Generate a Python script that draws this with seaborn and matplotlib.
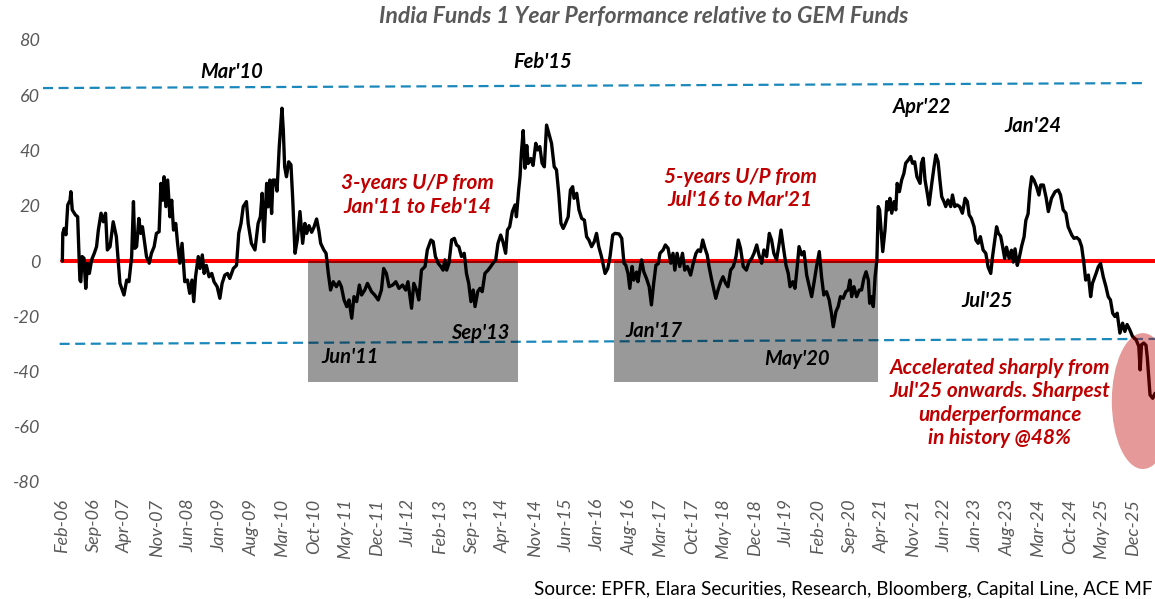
import matplotlib

matplotlib.use("Agg")
import matplotlib.dates as mdates
import matplotlib.pyplot as plt
import numpy as np
import pandas as pd
import seaborn as sns
from matplotlib.patches import Ellipse

START = pd.Timestamp("2006-02-01")

# months elapsed since Feb-06 and relative 1Y performance (%)
months_a = [0.0, 0.1, 0.4, 0.8, 1.2, 1.7, 1.9, 2.2, 2.9, 3.4, 3.9, 4.1, 4.4, 4.8, 5.2,
            5.6, 6.0, 6.5, 7.1, 7.6, 8.0, 8.6, 9.1, 9.6, 10.0, 10.6, 11.3, 12.0, 12.8, 13.7,
            14.3, 14.8, 15.4, 15.8, 16.1, 16.5, 17.0, 17.4, 17.8, 18.2, 18.7, 19.3, 19.8, 20.4, 20.9,
            21.5, 21.9, 22.3, 22.6, 23.0, 23.4, 23.9, 24.3, 24.7, 25.2, 25.6, 26.1, 26.6, 27.2, 27.8,
            28.3, 28.8, 29.2, 29.6, 30.2, 30.6, 31.1, 31.5, 32.0, 32.6, 33.2, 33.7, 34.4, 35.0, 35.5,
            36.1, 36.7, 37.2, 38.0, 38.7, 39.2, 39.7, 40.2]
values_a = [0.0, 10.0, 11.8, 9.5, 20.3, 22.0, 25.1, 18.5, 16.7, 16.0, -6.9, -7.5, 1.6, 1.0, -9.9,
            -0.8, -4.5, 0.4, 2.8, 5.2, 11.2, 17.3, 14.2, 17.3, 4.0, 5.2, 14.2, 8.8, -8.1, -12.3,
            -6.9, -7.5, 1.6, 21.5, 4.6, 5.2, 15.4, 10.0, 12.4, 7.6, 1.6, -0.8, 2.8, 5.2, 10.0,
            10.6, 28.1, 22.0, 30.5, 19.7, 29.3, 16.0, 22.0, 11.2, 13.6, 6.4, -0.8, 6.4, -7.5, -6.9,
            -11.7, -6.9, -14.7, -5.7, 1.6, -2.7, 2.2, -4.5, -1.6, -5.7, -4.5, -7.5, -9.3, -13.5, -8.1,
            -5.1, -4.5, -6.3, -2.7, -1.6, 10.0, 13.6, 19.7]

months_b = [40.9, 41.3, 42.0, 42.8, 43.5, 44.0, 44.4, 44.8, 45.4, 45.7, 46.1, 46.5, 46.8, 47.3, 47.7,
            48.2, 48.8, 49.1, 49.4, 49.8, 50.3, 50.8, 51.2, 51.7, 52.2, 52.8, 53.4, 53.9, 54.3, 54.8,
            55.4, 55.9, 56.5, 57.0, 57.4, 58.1, 58.6, 59.1, 59.6, 60.2, 60.9, 61.5, 62.0, 62.6, 63.2,
            63.7, 64.3, 64.8, 65.4, 66.0, 66.5, 67.2, 67.8, 68.7, 69.4, 70.2, 70.9, 71.4, 72.0, 72.6,
            73.4, 74.1, 74.8, 75.6, 76.3, 76.8, 77.6, 78.1, 78.7, 79.2, 79.8, 80.6]
values_b = [21.5, 13.6, 6.4, 4.0, 13.6, 16.0, 24.5, 7.0, 28.1, 19.6, 29.3, 17.2, 29.3, 29.3, 25.3,
            41.4, 55.3, 47.4, 34.1, 30.5, 35.9, 34.8, 22.1, 2.8, 7.6, 17.9, 6.4, 13.6, 10.0, 12.8,
            10.4, 12.2, 15.2, 11.0, 6.4, 4.0, 2.8, -4.5, -10.5, -7.5, -9.3, -7.5, -9.3, -14.1, -16.5,
            -14.1, -20.7, -12.9, -14.7, -8.7, -12.3, -10.5, -8.1, -11.1, -12.3, -14.1, -10.5, -2.7, -4.5, -9.3,
            -8.7, -7.5, -9.9, -8.7, -10.5, -7.5, -17.1, -8.1, -10.5, -14.1, -3.3, -2.0]

months_c = [81.1, 81.9, 82.4, 82.9, 83.5, 84.1, 84.6, 85.0, 85.4, 85.9, 86.5, 87.1, 87.6, 88.1, 88.7,
            89.3, 89.8, 90.3, 90.8, 91.3, 91.7, 92.3, 92.8, 93.3, 93.9, 94.6, 95.2, 95.7, 96.3, 96.8,
            97.4, 97.9, 98.5, 98.9, 99.4, 100.0, 100.6, 100.9, 101.4, 101.7, 102.0, 102.4, 102.8, 103.2, 103.5,
            104.1, 104.6, 105.2, 105.6, 106.1, 106.6, 107.1, 107.6, 108.1, 108.7, 109.3, 109.8, 110.3, 110.8, 111.3,
            111.8, 112.4, 112.9, 113.4, 113.7, 114.3, 114.8, 115.4, 116.0, 116.5, 117.0, 117.6, 118.2, 118.7, 119.2,
            119.8, 120.6, 121.2, 121.7, 122.3]
values_c = [4.0, 7.6, 7.0, 1.6, -0.8, -2.0, -3.3, 0.4, -3.3, -0.8, 7.6, 8.2, 5.8, 5.2, 1.6,
            2.8, -4.5, -8.1, -14.7, -10.5, -16.5, -11.1, -9.9, -11.1, -4.5, -3.3, -2.0, -0.8, 0.4, 6.4,
            9.4, 7.0, 2.8, 11.2, 12.4, 17.9, 20.3, 16.0, 25.7, 30.5, 39.0, 47.2, 33.6, 41.8, 35.3,
            37.1, 34.6, 42.6, 40.2, 41.4, 35.4, 34.1, 49.2, 46.2, 42.6, 34.1, 33.0, 24.5, 13.6, 11.8,
            13.6, 16.0, 25.7, 26.9, 22.7, 24.5, 18.5, 15.4, 14.8, 8.8, 7.6, 5.2, 7.0, 10.0, 5.2,
            1.6, -4.5, -2.7, 1.6, 9.4]

months_d = [122.8, 123.7, 124.3, 124.8, 125.2, 125.7, 126.1, 126.6, 127.0, 127.6, 127.9, 128.7, 129.2, 129.8, 130.4,
            130.9, 131.4, 131.9, 132.4, 132.8, 133.5, 134.0, 134.6, 135.2, 135.7, 136.1, 136.6, 137.2, 137.8, 138.3,
            138.9, 139.6, 140.2, 140.8, 141.3, 141.8, 142.3, 142.8, 143.3, 143.7, 144.3, 144.8, 145.2, 145.7, 146.3,
            146.8, 147.4, 147.9, 148.5, 149.1, 149.7, 150.2, 150.7, 151.3, 152.0, 152.6, 153.2, 153.7, 154.3, 154.8,
            155.4, 155.9, 156.5, 157.1, 157.6, 158.1, 158.7, 159.3, 159.7, 160.2, 160.8, 161.3, 161.7, 162.3, 162.8,
            163.3, 163.7, 164.3, 164.8, 165.4, 166.0, 166.5, 167.0, 167.6, 168.2, 168.7, 169.2, 169.8, 170.4, 170.9,
            171.3, 171.9, 172.4, 172.9, 173.5, 174.1, 174.6, 175.0, 175.4, 175.9, 176.5, 177.1, 177.6, 178.1, 178.6,
            179.1, 179.4, 179.8, 180.2, 180.6, 181.0, 181.3]
values_d = [10.0, 9.8, 8.2, -0.8, -1.5, -4.5, -9.9, -2.0, -6.9, -4.0, -7.5, 0.4, -3.9, -6.3, -9.3,
            -15.9, -8.1, -1.5, -1.0, 2.8, 4.0, 5.8, 4.6, -0.8, 2.8, -3.3, 2.8, -2.0, 2.8, -3.3,
            -2.0, -5.1, -0.8, 2.8, 4.0, 3.4, 7.6, 4.6, 2.2, -2.0, -6.9, -10.5, -13.5, -10.5, -7.5,
            -5.7, -8.1, -9.3, -3.3, -2.0, 1.6, 7.6, 4.6, -2.0, -3.3, -0.2, 1.0, 2.8, 5.8, 2.2,
            -0.8, 4.0, 1.6, 10.0, 7.6, 2.8, 0.4, 6.4, 11.2, 5.2, -1.5, -4.5, -9.3, -7.5, -9.9,
            -2.0, 5.2, 2.2, 3.4, -5.1, -9.3, -12.9, -8.1, -2.0, 3.4, -5.7, -12.3, -11.1, -14.1, -18.9,
            -23.8, -18.3, -16.5, -12.9, -13.5, -11.1, -10.5, -6.9, -12.9, -9.3, -12.9, -10.5, -10.5, -6.3, -3.9,
            -6.9, -15.3, -12.9, -16.5, -5.7, 0.4, 19.7]

months_e = [181.6, 182.3, 182.8, 183.2, 183.5, 183.9, 184.3, 184.8, 185.2, 185.5, 186.0, 186.5, 187.0, 187.4, 188.0,
            188.5, 188.9, 189.4, 189.9, 190.6, 190.9, 191.3, 191.7, 192.2, 192.6, 193.2, 193.7, 194.1, 194.6, 195.0,
            195.4, 195.9, 196.3, 196.8, 197.4, 197.8, 198.3, 198.8, 199.4, 200.0, 200.6, 201.1, 201.5, 202.0, 202.6,
            203.0, 203.5, 204.0, 204.6, 205.2, 205.7, 206.3, 206.7, 207.2, 207.6, 208.0, 208.5, 208.9, 209.4, 209.8,
            210.4, 210.9, 211.3, 211.7, 212.2, 212.6, 213.2, 213.7, 214.1, 214.6, 215.0, 215.4, 215.9, 216.5, 217.0,
            217.4, 218.0]
values_e = [18.5, 3.4, 11.2, 21.5, 18.5, 22.7, 17.3, 21.5, 18.5, 28.1, 25.1, 29.3, 31.7, 35.4, 36.6,
            37.8, 35.4, 35.9, 30.5, 28.1, 35.4, 37.2, 29.3, 24.5, 20.3, 28.1, 34.1, 38.4, 36.0, 29.3,
            23.3, 21.5, 19.7, 22.1, 19.7, 23.9, 19.7, 20.3, 19.7, 17.3, 22.7, 21.5, 16.7, 15.4, 12.4,
            7.6, 6.4, 8.8, 4.0, 2.8, -2.1, -4.5, 1.6, 7.6, 12.4, 10.0, 9.0, 5.6, 0.9, 5.0,
            0.9, 3.9, -0.4, 4.4, -1.6, 0.9, 5.6, 8.7, 14.7, 17.1, 25.6, 30.5, 29.3, 26.8, 23.9,
            27.5, 27.5]

months_f = [218.6, 219.1, 219.8, 220.6, 221.3, 221.8, 222.4, 223.0, 223.5, 224.3, 224.8, 225.4, 226.0, 226.5, 227.0,
            227.4, 228.0, 228.5, 228.9, 229.7, 230.2, 230.7, 231.3, 231.9, 232.4, 232.9, 233.4, 233.9, 234.4, 235.0,
            235.6, 236.1, 236.6, 237.2, 237.8, 238.6, 239.2, 239.5, 239.8, 240.3, 240.8, 241.1, 241.7, 242.3, 242.8]
values_f = [23.0, 17.9, 22.7, 25.1, 25.7, 23.9, 18.5, 17.3, 12.4, 9.4, 8.2, 8.5, 7.6, 5.2, -0.8,
            -6.9, -5.1, -12.9, -8.1, -4.5, -2.1, -0.9, -5.7, -9.3, -12.9, -14.1, -18.9, -20.1, -18.9, -26.1,
            -22.5, -25.5, -23.0, -24.9, -27.3, -28.5, -30.9, -39.4, -30.3, -29.7, -30.5, -35.2, -48.5, -49.7, -47.9]

# shaded underperformance windows (months since Feb-06) and their floor
shade_windows = [(54.6, 101.2), (122.6, 181.2)]
shade_floor = -43.8

# dashed reference band (start/end month, start/end value)
upper_band = ([-4.3, 240.6], [62.6, 64.4])
lower_band = ([-0.6, 242.8], [-30.0, -28.2])

peak_labels = ["Mar'10", "Feb'15", "Apr'22", "Jan'24", "Jun'11", "Sep'13", "Jan'17", "May'20", "Jul'25"]
peak_months = [37.7, 106.8, 191.0, 215.7, 63.9, 92.8, 131.4, 163.2, 205.4]
peak_values = [68.4, 72.0, 55.7, 48.9, -34.8, -26.1, -25.3, -35.5, -14.5]

note_texts = ["3-years U/P from\nJan'11 to Feb'14",
              "5-years U/P from\nJul'16 to Mar'21",
              "Accelerated sharply from\nJul'25 onwards. Sharpest\nunderperformance\nin history @48%"]
note_months = [78.8, 150.6, 208.3]
note_values = [23.9, 26.1, -51.4]


def to_date(months):
    return START + pd.to_timedelta(np.asarray(months, dtype=float) * 30.4375, unit="D")


months = months_a + months_b + months_c + months_d + months_e + months_f
values = values_a + values_b + values_c + values_d + values_e + values_f
df = pd.DataFrame({"date": to_date(months), "rel_perf": values})

sns.set_theme(style="white")
plt.rcParams["font.family"] = ["Lato", "DejaVu Sans"]

GREY = "#595959"
DARK_RED = "#C00000"
BAND_BLUE = "#1B88BC"

fig = plt.figure(figsize=(11.55, 5.99), dpi=100)
ax = fig.add_axes([43 / 1155, 117 / 599, 1112 / 1155, 442 / 599])

ax.plot(to_date([0, 242.8]), [0, 0], color="#FF0000", lw=2.9, zorder=1)
for xs, ys in (upper_band, lower_band):
    ax.plot(to_date(xs), ys, color=BAND_BLUE, lw=1.6, ls=(0, (4.5, 2.5)), zorder=1)

for m0, m1 in shade_windows:
    ax.fill_between(to_date([m0, m1]), shade_floor, 0, color="black", alpha=0.4, lw=0, zorder=2)

sns.lineplot(data=df, x="date", y="rel_perf", color="black", lw=2.4, estimator=None, sort=False, ax=ax, zorder=3)

center = mdates.date2num(to_date([240.1])[0])
ax.add_patch(Ellipse((center, -50.7), width=13.8 * 30.4375, height=49.2,
                     facecolor=DARK_RED, alpha=0.4, lw=0, zorder=4, clip_on=False))

for label, m, v in zip(peak_labels, peak_months, peak_values):
    ax.text(to_date([m])[0], v, label, ha="center", va="center", fontsize=14.5,
            fontweight="bold", fontstyle="italic", color="black", zorder=5)
for label, m, v in zip(note_texts, note_months, note_values):
    ax.text(to_date([m])[0], v, label, ha="center", va="center", fontsize=15, linespacing=1.2,
            fontweight="bold", fontstyle="italic", color=DARK_RED, zorder=5)

tick_dates = pd.date_range("2006-02-01", "2025-12-01", freq="7MS")
ax.set_xticks(tick_dates)
ax.set_xticklabels([d.strftime("%b-%y") for d in tick_dates], rotation=90)
yticks = list(range(-80, 81, 20))
ax.set_yticks(yticks)
ax.set_yticklabels([str(t) for t in yticks])
ax.tick_params(axis="both", length=0, colors=GREY, labelsize=13)
ax.tick_params(axis="x", pad=12)
ax.tick_params(axis="y", pad=2)
for lab in ax.get_xticklabels() + ax.get_yticklabels():
    lab.set_fontstyle("italic")

ax.set_xlim(to_date([-4.3])[0], to_date([242.8])[0])
ax.set_ylim(-80, 80)
ax.set_xlabel("")
ax.set_ylabel("")
sns.despine(ax=ax, left=True, bottom=True)

fig.text(644 / 1155, 1 - 16 / 599, "India Funds 1 Year Performance relative to GEM Funds",
         ha="center", va="center", fontsize=16.5, fontweight="bold", fontstyle="italic", color=GREY)
fig.text(1152 / 1155, 1 - 590 / 599,
         "Source: EPFR, Elara Securities, Research, Bloomberg, Capital Line, ACE MF",
         ha="right", va="center", fontsize=13.6, color="black")

fig.savefig("out.png", dpi=100)
